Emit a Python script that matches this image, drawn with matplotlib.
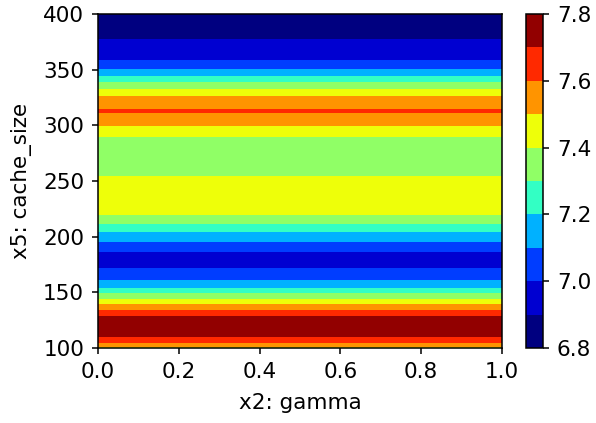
import numpy as np
import matplotlib
matplotlib.use("Agg")
import matplotlib.pyplot as plt
from matplotlib.colors import Normalize

# sampled cache sizes (y) and the metric at each one; gamma has no effect
cache_size = [100, 102, 106, 112, 120, 127, 131, 137, 142, 146, 151, 157, 163,
              170, 178, 184, 190, 199, 207, 215, 222, 238, 252, 257, 272, 287,
              292, 296, 303, 310, 312.5, 316, 322, 328, 335, 341, 347, 353,
              362, 370, 378, 390, 400]
metric = [7.46, 7.54, 7.65, 7.73, 7.767, 7.72, 7.66, 7.55, 7.45, 7.36, 7.26,
          7.15, 7.07, 7.01, 6.96, 6.98, 7.04, 7.14, 7.24, 7.35, 7.43, 7.46,
          7.42, 7.38, 7.35, 7.38, 7.42, 7.47, 7.53, 7.58, 7.65, 7.56, 7.55,
          7.48, 7.36, 7.26, 7.15, 7.06, 6.97, 6.93, 6.898, 6.89, 6.888]
gamma = [0.0, 1.0]
levels = [6.8, 6.9, 7.0, 7.1, 7.2, 7.3, 7.4, 7.5, 7.6, 7.7, 7.8]
cbar_ticks = [6.8, 7.0, 7.2, 7.4, 7.6, 7.8]

plt.rcParams['font.size'] = 15.5
plt.rcParams['axes.linewidth'] = 1.1
for a in ('xtick', 'ytick'):
    plt.rcParams[a + '.major.size'] = 4.5
    plt.rcParams[a + '.major.pad'] = 5.5
    plt.rcParams[a + '.major.width'] = 1.1

# colours scaled to the data range, like older matplotlib contourf
norm = Normalize(vmin=min(metric), vmax=max(metric))

X, Y = np.meshgrid(gamma, cache_size)
Z = np.tile(np.array(metric)[:, None], (1, len(gamma)))

fig = plt.figure(figsize=(5.96, 4.23), dpi=100)
ax = fig.add_axes([98 / 596, 75 / 423, 404 / 596, 334 / 423])
cax = fig.add_axes([526 / 596, 75 / 423, 17 / 596, 334 / 423])

cs = ax.contourf(X, Y, Z, levels=levels, cmap="jet", norm=norm)
ax.set_xlim(0, 1)
ax.set_ylim(100, 400)
ax.set_xlabel("x2: gamma", labelpad=8)
ax.set_ylabel("x5: cache_size", labelpad=8)

cb = fig.colorbar(cs, cax=cax)
cb.set_ticks(cbar_ticks)

fig.savefig("out.png", dpi=100)
